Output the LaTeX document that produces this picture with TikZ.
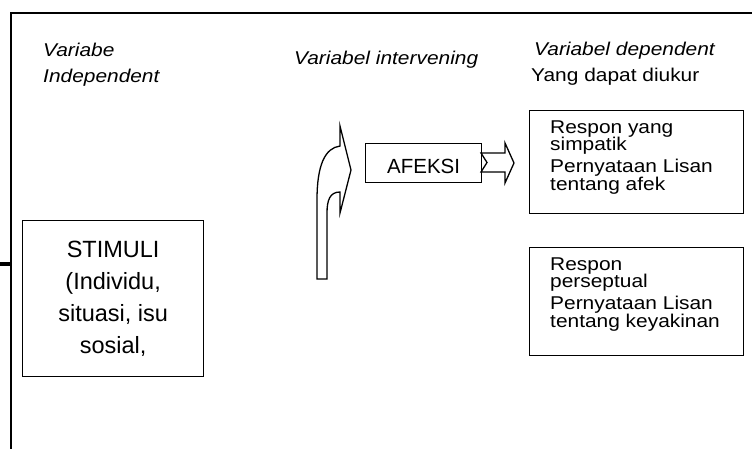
\documentclass[tikz,border=0pt]{standalone}
\usepackage{fontspec}
\setmainfont{Liberation Sans}
\newfontfamily\wsans{Liberation Sans}[FakeStretch=1.13]
\begin{document}
\begin{tikzpicture}[x=1pt,y=-1pt,line join=miter]
\tikzset{
  ln/.style={line width=1.3pt},
  box/.style={draw, line width=1.3pt, fill=white, inner sep=0pt, anchor=north west},
  lbl/.style={inner sep=0pt, anchor=base west, font=\wsans\fontsize{18.5}{22}\selectfont},
}
\useasboundingbox (0,0) rectangle (752,448);
% outer frame (cropped)
\coordinate (fbl) at (11,449);
\coordinate (ftl) at (11,13);
\coordinate (ftr) at (753,13);
\draw[ln] (fbl) -- (ftl) -- (ftr);
\coordinate (s0) at (-1,264);
\coordinate (s1) at (11,264);
\draw[line width=4pt] (s0) -- (s1);
% labels
\node[lbl] (indep) at (43,56) {\itshape\vtop{\baselineskip=26pt\lineskiplimit=-50pt\hbox{Variabe}\hbox{Independent}}};
\node[lbl] (interv) at (294,64) {\itshape Variabel intervening};
\node[lbl] (dep) at (534,55) {\itshape Variabel dependent};
\node[lbl] (ukur) at (531,81) {Yang dapat diukur};
% stimuli box
\node[box, minimum width=181pt, minimum height=156pt, align=center,
      font=\fontsize{23.5}{32}\selectfont] (stim) at (22,220)
      {STIMULI\\(Individu,\\situasi, isu\\sosial,};
% curved arrow
\draw[ln, fill=white] (317,279) -- (317,200)
   .. controls (317,165) and (325,148) .. (340,146)
   -- (340,126) -- (351,170) -- (340,213) -- (340,192)
   .. controls (330,192) and (327,200) .. (327,213)
   -- (327,279) -- cycle;
% afeksi
\node[box, minimum width=116pt, minimum height=39pt, text height=20.5pt, text depth=0pt,
      font=\fontsize{20.5}{24}\selectfont] (afeksi) at (365,143) {AFEKSI};
% notched arrow
\draw[ln, fill=white] (481,153) -- (505,153) -- (505,143) -- (514,163)
   -- (505,183) -- (505,172) -- (481,172) -- (487,162.5) -- cycle;
% response boxes
\node[box, minimum width=214pt, minimum height=103pt] (resp1) at (529,110) {};
\node[lbl] (resp1t) at (550,133) {\vtop{\baselineskip=17.5pt\lineskiplimit=-50pt
   \hbox{Respon yang}\hbox{simpatik}\vskip4.5pt\hbox{Pernyataan Lisan}\vskip0.5pt\hbox{tentang afek}}};
\node[box, minimum width=214pt, minimum height=108pt] (resp2) at (529,247) {};
\node[lbl] (resp2t) at (550,270) {\vtop{\baselineskip=17.5pt\lineskiplimit=-50pt
   \hbox{Respon}\hbox{perseptual}\vskip4.5pt\hbox{Pernyataan Lisan}\vskip0.5pt\hbox{tentang keyakinan}}};
\end{tikzpicture}
\end{document}
